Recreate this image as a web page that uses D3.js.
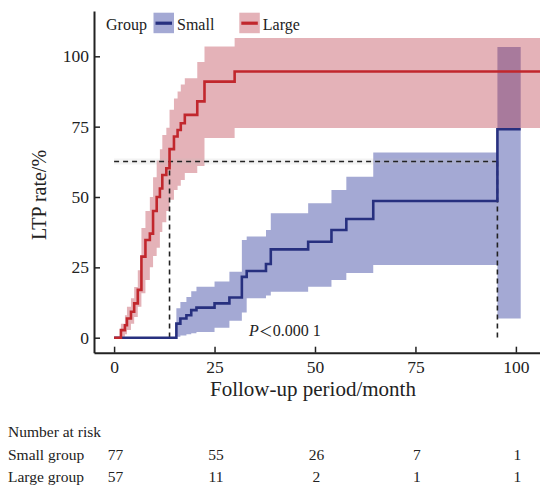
<!DOCTYPE html>
<html>
<head>
<meta charset="utf-8">
<script src="https://cdn.jsdelivr.net/npm/d3@7"></script>
<style>
  html, body { margin: 0; padding: 0; background: #fff; }
  svg { display: block; }
  text { font-family: "Liberation Serif", "Times New Roman", serif; fill: #222; }
</style>
</head>
<body>
<svg id="chart" width="540" height="489"></svg>
<script>
// ---------- data ----------
const xTicks = [0, 25, 50, 75, 100];
const yTicks = [0, 25, 50, 75, 100];

const largeTime  = [0, 1.7, 2.7, 3.2, 4.2, 5.0, 5.9, 6.8, 7.8, 8.9, 9.7, 10.6, 11.4, 12.0, 13.0, 13.8, 14.9, 15.8, 16.6, 17.6, 20.7, 22.5, 30.0];
const largeRate  = [0, 2.7, 4.4, 6.8, 9.2, 12.2, 17.0, 28.8, 34.7, 37.0, 45.0, 50.0, 53.0, 57.8, 60.2, 67.0, 71.5, 73.8, 76.2, 79.2, 84.0, 91.0, 94.6];
const largeUpper = [0, 5.0, 8.0, 11.0, 14.0, 18.0, 24.0, 39.0, 45.0, 50.0, 57.0, 63.0, 67.0, 72.0, 74.6, 81.0, 85.0, 87.5, 90.0, 92.2, 98.0, 103.5, 106.5];
const largeLower = [0, 0.3, 1.2, 2.7, 5.0, 7.4, 11.0, 15.8, 20.5, 25.0, 29.0, 32.0, 37.6, 41.0, 45.0, 49.0, 52.5, 54.0, 56.0, 58.5, 61.0, 71.0, 74.5];
const largeEnd = 106;

const smallTime  = [0, 15.5, 16.5, 18.0, 19.2, 20.5, 25.0, 28.7, 31.8, 33.0, 37.8, 39.0, 48.3, 54.1, 57.8, 64.5, 95.4];
const smallRate  = [0, 5.0, 6.8, 8.0, 9.8, 10.7, 12.2, 14.3, 21.6, 23.7, 26.2, 31.4, 34.1, 38.3, 42.2, 48.6, 74.1];
const smallUpper = [0, 10.5, 12.7, 14.5, 16.5, 18.1, 20.0, 23.4, 34.7, 36.0, 38.3, 44.2, 47.8, 52.5, 57.2, 65.8, 103.3];
const smallLower = [0, 0.3, 0.8, 1.2, 1.6, 2.0, 3.5, 6.0, 9.0, 14.0, 15.0, 16.3, 18.1, 20.5, 23.0, 25.8, 6.8];
const smallEnd = 101.2;

const medianLevel = 62.6;
const medianTimes = [13.8, 95.4];

const groups = ["Small", "Large"];
const riskTimes = [0, 25, 50, 75, 100];
const riskSmall = [77, 55, 26, 7, 1];
const riskLarge = [57, 11, 2, 1, 1];
const riskLabels = ["Small group", "Large group"];
const pText = "P＜0.000 1";

// ---------- styles ----------
const colors = {
  Small: { line: "#27307f", band: "#a4a9d4", bandOpacity: 1 },
  Large: { line: "#c1272d", band: "rgb(178,34,52)", bandOpacity: 0.35 }
};

const svg = d3.select("#chart");
const L = 94, R = 540, T = 11, B = 352.7;

const x = d3.scaleLinear().domain([-5, 106]).range([L, R]);
const y = d3.scaleLinear().domain([-5.33, 116.1]).range([B, T]);

svg.append("defs").append("clipPath").attr("id", "clip")
  .append("rect").attr("x", L).attr("y", T).attr("width", R - L).attr("height", B - T);

function series(time, rate, up, lo, end) {
  const pts = time.map((t, i) => ({ t, v: rate[i], u: up[i], l: lo[i] }));
  const last = pts[pts.length - 1];
  pts.push({ t: end, v: last.v, u: last.u, l: last.l });
  return pts;
}
const small = series(smallTime, smallRate, smallUpper, smallLower, smallEnd);
const large = series(largeTime, largeRate, largeUpper, largeLower, largeEnd);

const area = d3.area().curve(d3.curveStepAfter)
  .x(d => x(d.t)).y0(d => y(d.l)).y1(d => y(d.u));
const line = d3.line().curve(d3.curveStepAfter)
  .x(d => x(d.t)).y(d => y(d.v));

const plot = svg.append("g").attr("clip-path", "url(#clip)");

plot.append("path").datum(small).attr("d", area)
  .attr("fill", colors.Small.band).attr("fill-opacity", colors.Small.bandOpacity);
plot.append("path").datum(large).attr("d", area)
  .attr("fill", colors.Large.band).attr("fill-opacity", colors.Large.bandOpacity);

// median guide lines
plot.append("line")
  .attr("x1", x(0)).attr("x2", x(medianTimes[1]))
  .attr("y1", y(medianLevel)).attr("y2", y(medianLevel))
  .attr("stroke", "#bbb").attr("stroke-width", 6).attr("stroke-opacity", 0.18);
plot.append("line")
  .attr("x1", x(0)).attr("x2", x(medianTimes[1]))
  .attr("y1", y(medianLevel)).attr("y2", y(medianLevel))
  .attr("stroke", "#222").attr("stroke-width", 1.6).attr("stroke-dasharray", "5,4");
medianTimes.forEach(mt => {
  plot.append("line")
    .attr("x1", x(mt)).attr("x2", x(mt))
    .attr("y1", y(medianLevel)).attr("y2", y(0))
    .attr("stroke", "#222").attr("stroke-width", 1.6).attr("stroke-dasharray", "5,4");
});

plot.append("path").datum(small).attr("d", line)
  .attr("fill", "none").attr("stroke", colors.Small.line).attr("stroke-width", 2.6);
plot.append("path").datum(large).attr("d", line)
  .attr("fill", "none").attr("stroke", colors.Large.line).attr("stroke-width", 2.6);

// ---------- axes ----------
const xAxis = svg.append("g").attr("transform", `translate(0,${B})`)
  .call(d3.axisBottom(x).tickValues(xTicks).tickSize(-6).tickPadding(14).tickSizeOuter(0));
const yAxis = svg.append("g").attr("transform", `translate(${L},0)`)
  .call(d3.axisLeft(y).tickValues(yTicks).tickSize(-6).tickPadding(11).tickSizeOuter(0));
[xAxis, yAxis].forEach(g => {
  g.select(".domain").attr("stroke", "#222").attr("stroke-width", 2);
  g.selectAll(".tick line").attr("stroke", "#222").attr("stroke-width", 1.5);
  g.selectAll(".tick text").attr("font-family", "Liberation Serif, serif")
    .attr("font-size", 17.5).attr("fill", "#222");
});
xAxis.selectAll(".tick text").attr("dy", "0.71em").attr("y", 8);
yAxis.selectAll(".tick text").attr("x", -5);

svg.append("text").attr("x", (x(0) + x(100)) / 2 - 2).attr("y", 396)
  .attr("text-anchor", "middle").attr("font-size", 21).text("Follow-up period/month");
svg.append("text")
  .attr("transform", `translate(46,${y(50) - 2}) rotate(-90)`)
  .attr("text-anchor", "middle").attr("font-size", 20).text("LTP rate/%");

// ---------- legend ----------
const lg = svg.append("g").attr("font-size", 16);
lg.append("text").attr("x", 106).attr("y", 30).text("Group");
const legendPos = { Small: 153.5, Large: 239.3 };
groups.forEach(g => {
  const lx = legendPos[g];
  lg.append("rect").attr("x", lx).attr("y", 12.7).attr("width", 20.5).attr("height", 20.5)
    .attr("fill", colors[g].band).attr("fill-opacity", colors[g].bandOpacity);
  lg.append("line").attr("x1", lx + 2).attr("x2", lx + 18.5)
    .attr("y1", 23.2).attr("y2", 23.2)
    .attr("stroke", colors[g].line).attr("stroke-width", 3.2);
  lg.append("text").attr("x", lx + 23.5).attr("y", 30).text(g);
});

// p value
svg.append("text").attr("x", 249).attr("y", 336).attr("font-size", 16)
  .html('<tspan font-style="italic">P</tspan><tspan font-family="Noto Sans CJK SC" font-size="14">＜</tspan><tspan>0.000 1</tspan>');

// ---------- risk table ----------
const rt = svg.append("g").attr("font-size", 15.5);
rt.append("text").attr("x", 8).attr("y", 437).text("Number at risk");
[riskSmall, riskLarge].forEach((row, ri) => {
  const yy = 460 + ri * 22;
  rt.append("text").attr("x", 8).attr("y", yy).text(riskLabels[ri]);
  row.forEach((n, i) => {
    rt.append("text").attr("x", x(riskTimes[i]) + 1.5).attr("y", yy)
      .attr("text-anchor", "middle").text(n);
  });
});
</script>
</body>
</html>
